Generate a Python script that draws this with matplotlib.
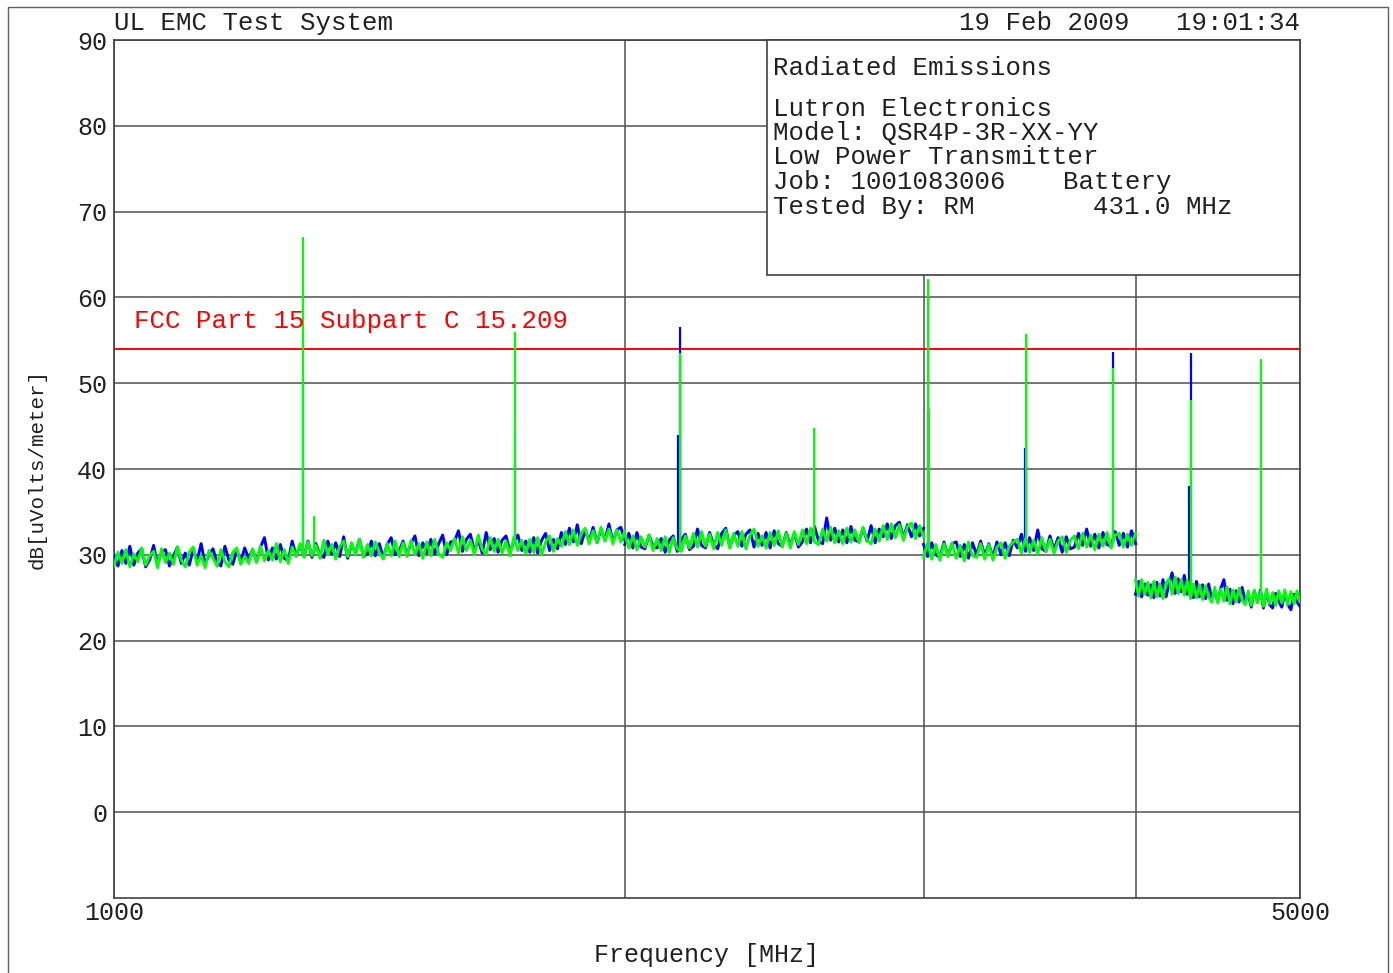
import numpy as np
import matplotlib
matplotlib.use("Agg")
import matplotlib.pyplot as plt
from matplotlib.patches import Rectangle

plt.rcParams['font.family'] = ['Liberation Mono', 'DejaVu Sans Mono']

# ---- sweep bands (MHz) ----
band_edges = [(1000, 2000), (2000, 3000), (3000, 4000), (4000, 5000)]

# noise floor, vertical polarisation (blue), dBuV/m
blue_b1 = [29.9, 28.7, 30.5, 29.0, 31.0, 28.8, 30.2, 30.7, 28.6, 29.4, 31.1, 28.9, 30.3, 30.6, 28.7,
           29.8, 30.9, 29.0, 30.2, 28.8, 30.6, 29.3, 31.3, 28.9, 30.0, 30.7, 29.1, 28.7, 31.0, 29.4,
           28.9, 30.5, 29.2, 30.8, 29.6,
           30.6, 29.2, 30.9, 32.0, 29.4, 30.8, 29.5, 31.2, 29.6, 29.3, 31.6, 29.9,
           31.1, 29.8, 31.6, 29.7, 31.3, 30.0, 29.7, 31.6, 30.1, 31.4, 29.8, 32.1, 29.6, 31.2, 30.2,
           31.8, 29.8, 30.1, 31.6, 29.9, 31.3, 29.7, 31.2, 32.0, 30.0, 30.4,
           31.6, 30.0, 31.3, 32.2, 29.9, 31.4, 30.2, 31.8, 30.1, 31.3, 32.3, 30.0, 31.5,
           31.6, 32.8, 30.4, 31.8, 32.4, 30.5, 31.7, 30.2, 32.6, 30.6, 31.9, 30.3, 31.7, 32.2, 30.4,
           31.5, 32.3, 30.5,
           31.6, 30.3, 32.0, 30.2, 31.7, 32.5, 30.5, 31.8, 30.7,
           32.6, 31.2, 33.1, 31.5, 33.5, 31.3, 32.8, 31.6, 33.2, 31.4, 33.0, 31.7, 33.6, 31.5, 32.9,
           33.2, 31.7]
blue_b2 = [31.2, 32.5, 30.8, 32.6, 30.9, 30.7, 32.3, 31.0, 30.8,
           31.9, 30.3, 31.7, 32.2, 30.4, 31.8, 32.4, 30.6,
           31.0, 33.0, 31.1, 30.8, 32.6, 31.2, 30.7, 32.5, 33.1, 30.9, 32.3, 32.7, 31.0, 32.4, 32.9,
           30.9, 32.5, 31.1, 32.6, 30.8, 32.8, 31.3, 31.0, 32.6, 31.1, 32.5, 30.9,
           31.5, 33.0, 31.4, 33.3, 31.6, 31.3, 34.3, 31.7, 33.1, 31.5, 32.9, 31.4, 33.3, 31.7, 31.5,
           33.1, 31.6, 33.4, 31.4, 33.0,
           32.1, 33.6, 31.9, 33.4, 33.8, 32.0, 33.5, 32.1, 33.6, 32.2, 33.1]
blue_b3 = [31.2, 29.8, 31.4, 30.0, 29.7, 31.5, 29.9, 31.3, 31.5, 29.8, 31.2, 29.6, 31.4, 30.0, 31.6,
           29.9, 31.3, 29.7, 31.5, 30.0, 31.4, 29.9, 31.7,
           30.8, 32.4, 30.4, 32.0, 30.5, 32.9, 30.7, 30.4, 32.2, 30.6, 32.0, 30.3, 32.1, 30.7,
           30.9, 32.5, 31.1, 33.0, 31.0, 32.4, 30.8, 32.6, 31.2, 31.0, 32.7, 31.1, 32.5, 30.9, 32.8,
           31.3]
blue_b4 = [25.4, 26.9, 25.1, 26.6, 25.3,
           26.5, 25.0, 26.8, 25.2, 27.1, 25.1,
           26.6, 27.9, 25.5, 27.2, 25.7, 27.6, 25.4,
           26.4, 25.0, 26.9, 25.1, 26.5, 24.9, 26.6,
           24.9, 25.7, 24.6, 26.1, 27.1, 24.7, 26.0, 24.3, 25.8, 24.5, 26.2,
           24.6, 25.4, 23.9, 25.8, 24.5, 25.9, 23.8, 25.7, 24.2, 23.8, 25.5, 24.6, 23.9, 25.6, 24.2,
           23.6, 25.4, 24.5, 24.0]

# noise floor, horizontal polarisation (green), dBuV/m
green_b1 = [28.7, 30.3, 29.0, 30.6, 28.6, 30.1, 29.2, 30.8, 28.8, 29.9, 30.4, 28.5, 30.7, 29.1, 30.2,
            28.9, 30.9, 29.4, 28.6, 30.3, 30.9, 28.8, 29.9, 28.5, 30.5, 29.6, 28.7, 30.6, 29.2, 28.6,
            30.3, 30.8, 28.9, 29.8, 29.0,
            30.7, 29.1, 31.0, 29.3, 30.5, 29.4, 31.3, 29.2, 30.6, 29.0, 30.9, 29.8,
            31.3, 29.7, 31.5, 29.9, 31.1, 29.6, 31.7, 30.0, 31.2, 29.5, 31.0, 31.6, 29.8, 31.4, 30.0,
            31.8, 29.7, 31.2, 29.9, 31.5, 30.3, 29.5, 31.3, 29.9, 31.6, 29.8,
            31.4, 29.8, 31.7, 30.0, 31.3, 29.6, 31.5, 29.9, 31.8, 30.1, 29.7, 31.4, 30.5,
            31.9, 30.2, 32.1, 30.5, 31.7, 30.0, 32.3, 30.6, 30.1, 32.0, 30.4, 31.8, 30.2, 31.6, 29.9,
            32.1, 30.5, 31.7,
            30.1, 31.8, 30.3, 32.0, 30.0, 31.5, 32.2, 30.4, 31.9,
            31.0, 32.7, 31.2, 32.9, 31.1, 32.5, 33.1, 31.3, 32.8, 31.4, 33.2, 31.6, 33.0, 31.3, 32.9,
            31.5, 32.8]
green_b2 = [32.4, 30.8, 32.2, 30.6, 32.1, 30.9, 32.3, 30.5, 31.9,
            30.5, 32.1, 30.3, 32.0, 30.7, 30.4, 32.2, 30.8,
            32.5, 30.9, 32.7, 31.0, 32.4, 30.7, 32.6, 31.1, 32.9, 30.8, 32.5, 31.0, 32.7, 30.7, 32.3,
            33.0, 31.0, 32.2, 30.8, 32.6, 31.1, 32.8, 30.9, 32.5, 30.8, 32.7, 31.2,
            32.9, 31.3, 33.1, 31.5, 31.2, 33.0, 31.6, 33.2, 31.4, 32.8, 31.3, 33.1, 31.5, 32.9, 31.4,
            33.2, 31.7, 31.3, 33.0, 31.6,
            33.4, 31.8, 33.6, 32.0, 33.5, 31.7, 33.3, 33.7, 31.9, 33.4, 32.1]
green_b3 = [29.7, 31.4, 29.5, 31.2, 29.4, 31.3, 29.8, 31.4, 29.6, 31.1, 29.3, 31.5, 29.9, 29.7, 31.3,
            29.5, 31.2, 29.4, 30.9, 31.4, 29.6, 31.0, 31.5,
            31.8, 30.2, 31.9, 30.3, 31.7, 30.1, 32.0, 30.4, 31.8, 30.2, 31.6, 32.1, 30.3, 31.7,
            32.2, 30.7, 32.5, 30.9, 32.3, 30.6, 32.4, 31.0, 32.6, 30.8, 32.3, 32.5, 30.9, 32.4, 31.1,
            32.5]
green_b4 = [27.0, 25.2, 27.1, 25.4, 26.8,
            25.0, 26.9, 25.1, 26.6, 24.9, 26.7,
            27.2, 25.4, 27.4, 25.5, 27.1, 25.3, 27.0,
            24.9, 26.6, 25.0, 26.5, 24.8, 26.4, 25.1,
            24.5, 26.2, 24.4, 26.0, 24.6, 26.3, 24.3, 25.9, 24.5, 26.1, 24.7,
            24.2, 25.8, 24.1, 25.9, 24.4, 25.7, 24.0, 26.0, 24.3, 25.6, 24.1, 25.8, 24.4, 25.9, 24.2,
            25.7, 24.3, 25.8, 24.5]

# harmonics of the 431 MHz transmitter (MHz, dBuV/m)
blue_peak_freq = [1293, 1724, 2150, 2155, 3020, 3443, 3879, 4300, 4310]
blue_peak_level = [50.0, 44.5, 44.0, 56.5, 46.7, 42.5, 53.6, 38.0, 53.5]
green_peak_freq = [1293, 1312, 1724, 2155, 2586, 3017, 3021, 3448, 3879, 4310, 4741]
green_peak_level = [67.0, 34.5, 56.0, 53.5, 44.8, 62.2, 47.0, 55.7, 51.8, 48.1, 52.8]

limit_level = 54.0
limit_label = "FCC Part 15 Subpart C 15.209"

y_ticks = [0, 10, 20, 30, 40, 50, 60, 70, 80, 90]
x_grid = [1000, 2000, 3000, 4000, 5000]
x_tick_labels = ['1000', '', '', '', '5000']

header_left = "UL EMC Test System"
header_right = "19 Feb 2009   19:01:34"
info_title = "Radiated Emissions"
info_lines = ["Lutron Electronics", "Model: QSR4P-3R-XX-YY", "Low Power Transmitter",
              "Job: 1001083006", "Tested By: RM"]
info_right = ["Battery", "431.0 MHz"]

W, H = 1393, 973
fig = plt.figure(figsize=(W / 100, H / 100), dpi=100)
fig.patch.set_facecolor('white')


def fx(px):
    return px / W


def fy(py):
    return 1 - py / H


ax = fig.add_axes([fx(114), fy(898), (1300 - 114) / W, (898 - 40) / H])
ax.set_xscale('log')
ax.set_xlim(1000, 5000)
ax.set_ylim(-10, 90)
ax.set_yticks(y_ticks)
ax.set_yticklabels([str(v) for v in y_ticks])
ax.set_xticks(x_grid)
ax.set_xticklabels(x_tick_labels)
ax.xaxis.set_minor_locator(matplotlib.ticker.NullLocator())
ax.tick_params(axis='both', length=0, labelsize=18, labelcolor='#202020')
ax.tick_params(axis='y', pad=5)
ax.tick_params(axis='x', pad=2)
ax.grid(True, which='major', color='#505050', lw=1.1)
ax.set_axisbelow(True)
for s in ax.spines.values():
    s.set_color('#404040')
    s.set_linewidth(1.2)

ax.set_xlabel("Frequency [MHz]", fontsize=18, color='#202020', labelpad=13)
ax.set_ylabel("dB[uVolts/meter]", fontsize=15, color='#202020', labelpad=22)

blue_bands = [blue_b1, blue_b2, blue_b3, blue_b4]
green_bands = [green_b1, green_b2, green_b3, green_b4]


def band_freqs(edges, vals):
    return np.geomspace(edges[0], edges[1], len(vals))


blue_f_all, blue_v_all, green_f_all, green_v_all = [], [], [], []
for edges, bv, gv in zip(band_edges, blue_bands, green_bands):
    bf = band_freqs(edges, bv)
    gf = band_freqs(edges, gv)
    ax.plot(bf, bv, color='#0000ff', lw=2.1, zorder=3)
    ax.plot(gf, gv, color='#00ff00', lw=2.1, zorder=4)
    blue_f_all.extend(bf); blue_v_all.extend(bv)
    green_f_all.extend(gf); green_v_all.extend(gv)

blue_base = np.interp(blue_peak_freq, blue_f_all, blue_v_all)
green_base = np.interp(green_peak_freq, green_f_all, green_v_all)
ax.vlines(blue_peak_freq, blue_base, blue_peak_level, color='#0000ff', lw=1.6, zorder=3)
ax.vlines(green_peak_freq, green_base, green_peak_level, color='#00ff00', lw=1.6, zorder=4)

# limit line and its label
ax.axhline(limit_level, color='#ff0000', lw=1.4, zorder=2)
fig.text(fx(134), fy(328), limit_label, color='#ff0000', fontsize=18.5, va='baseline',
         ha='left', zorder=1)

# information box
ax.add_patch(Rectangle((fx(767), fy(275)), (1300 - 767) / W, (275 - 40) / H,
                       transform=fig.transFigure, facecolor='white', edgecolor='#404040',
                       lw=1.2, zorder=10, clip_on=False))
ax.text(fx(773), fy(75), info_title, transform=fig.transFigure, fontsize=18.5,
        va='baseline', ha='left', color='#202020', zorder=11)
for text, base in zip(info_lines, [116, 140, 164, 189, 214]):
    ax.text(fx(773), fy(base), text, transform=fig.transFigure, fontsize=18.5,
            va='baseline', ha='left', color='#202020', zorder=11)
ax.text(fx(1063), fy(189), info_right[0], transform=fig.transFigure, fontsize=18.5,
        va='baseline', ha='left', color='#202020', zorder=11)
ax.text(fx(1093), fy(214), info_right[1], transform=fig.transFigure, fontsize=18.5,
        va='baseline', ha='left', color='#202020', zorder=11)

# header
fig.text(fx(114), fy(30), header_left, fontsize=18.5, va='baseline', ha='left', color='#202020')
fig.text(fx(1300), fy(30), header_right, fontsize=18.5, va='baseline', ha='right',
         color='#202020')

# outer frame
fig.add_artist(Rectangle((fx(8), -0.01), (1388 - 8) / W, fy(7) + 0.01, transform=fig.transFigure,
                         fill=False, edgecolor='#606060', lw=1.0))

fig.savefig("out.png", dpi=100)
